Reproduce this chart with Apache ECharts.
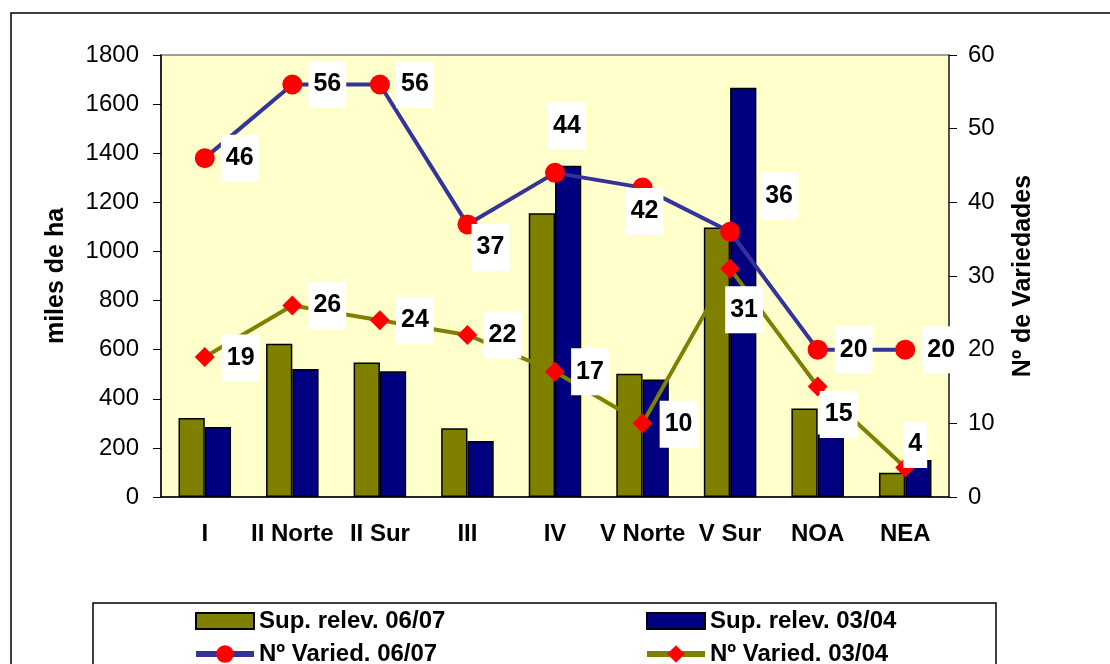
<!DOCTYPE html>
<html>
<head>
<meta charset="utf-8">
<script src="https://cdn.jsdelivr.net/npm/echarts@6/dist/echarts.min.js"></script>
<style>
  html, body { margin: 0; padding: 0; background: #fff; }
  #main { width: 1110px; height: 664px; }
</style>
</head>
<body>
<div id="main"></div>
<script>
// datos
var regiones = ["I", "II Norte", "II Sur", "III", "IV", "V Norte", "V Sur", "NOA", "NEA"];
var supRelev0607 = [322, 624, 548, 280, 1156, 502, 1098, 360, 99];
var supRelev0304 = [285, 521, 512, 228, 1349, 478, 1667, 255, 151];
var varied0607 = [46, 56, 56, 37, 44, 42, 36, 20, 20];
var varied0304 = [19, 26, 24, 22, 17, 10, 31, 15, 4];
var ticksIzq = [0, 200, 400, 600, 800, 1000, 1200, 1400, 1600, 1800];
var ticksDer = [0, 10, 20, 30, 40, 50, 60];

// desplazamiento de las etiquetas respecto al punto
var offs0607 = [[35, 0], [35, 0], [35, 0], [23, 23], [12, -47], [2, 24], [49, -36], [36, 0], [36, 0]];
var offs0304 = [[36, 1], [35, 0], [35, 0], [35, 0], [35, 0], [36, 1], [14, 41], [21, 28], [10, -23]];

var fuente = "Liberation Sans, Arial, sans-serif";

function conEtiquetas(vals, offs) {
  return vals.map(function (v, i) {
    return { value: v, label: { offset: offs[i] } };
  });
}

var etiqueta = {
  show: true,
  position: "inside",
  color: "#000",
  fontFamily: fuente,
  fontWeight: "bold",
  fontSize: 25,
  lineHeight: 25,
  backgroundColor: "#fff",
  padding: [11, 5, 11, 5]
};

// icono de barra 58x16 dentro de la caja de 58x22
var iconoBarra = "path://M0,0h58v16h-58z";

var leyenda = {
  orient: "horizontal",
  top: 609,
  width: 300,
  padding: 0,
  itemWidth: 58,
  itemHeight: 22,
  itemGap: 9,
  symbolKeepAspect: true,
  lineStyle: { width: 6 },
  textStyle: { fontFamily: fuente, fontWeight: "bold", fontSize: 24, color: "#000" }
};

var myChart = echarts.init(document.getElementById("main"));
var option = {
  animation: false,
  textStyle: { fontFamily: fuente },
  graphic: [
    { type: "rect", shape: { x: 11, y: 13, width: 1200, height: 700 },
      style: { fill: null, stroke: "#000", lineWidth: 1.5 }, z: -1 },
    { type: "rect", shape: { x: 93, y: 603, width: 903, height: 100 },
      style: { fill: null, stroke: "#000", lineWidth: 1.5 }, z: -1 }
  ],
  legend: [
    Object.assign({}, leyenda, {
      left: 193,
      data: [
        { name: "Sup. relev. 06/07", icon: iconoBarra },
        { name: "Nº Varied. 06/07" }
      ]
    }),
    Object.assign({}, leyenda, {
      left: 644,
      data: [
        { name: "Sup. relev. 03/04", icon: iconoBarra },
        { name: "Nº Varied. 03/04" }
      ]
    })
  ],
  grid: {
    left: 161,
    right: 161,
    top: 55,
    bottom: 167,
    show: true,
    backgroundColor: "#FFFFCC",
    borderColor: "#808080",
    borderWidth: 1.5
  },
  xAxis: {
    type: "category",
    data: regiones,
    axisLine: { lineStyle: { color: "#000", width: 1.5 } },
    axisTick: { length: 8, lineStyle: { color: "#000" } },
    axisLabel: { color: "#000", fontWeight: "bold", fontSize: 24, margin: 25, fontFamily: fuente, interval: 0, hideOverlap: false }
  },
  yAxis: [
    {
      type: "value",
      min: ticksIzq[0],
      max: ticksIzq[ticksIzq.length - 1],
      interval: ticksIzq[1] - ticksIzq[0],
      name: "miles de ha",
      nameLocation: "middle",
      nameGap: 92,
      nameTextStyle: { color: "#000", fontWeight: "bold", fontSize: 25, fontFamily: fuente },
      axisLine: { show: true, lineStyle: { color: "#000", width: 1.5 } },
      axisTick: { show: true, length: 8, lineStyle: { color: "#000" } },
      axisLabel: { color: "#000", fontSize: 24, margin: 22, fontFamily: fuente, formatter: function (v) { return String(v); } },
      splitLine: { show: false }
    },
    {
      type: "value",
      min: ticksDer[0],
      max: ticksDer[ticksDer.length - 1],
      interval: ticksDer[1] - ticksDer[0],
      name: "Nº de Variedades",
      nameLocation: "middle",
      nameGap: 62,
      nameTextStyle: { color: "#000", fontWeight: "bold", fontSize: 25, fontFamily: fuente },
      position: "right",
      axisLine: { show: true, lineStyle: { color: "#333", width: 1.5 } },
      axisTick: { show: true, length: 8, lineStyle: { color: "#000" } },
      axisLabel: { color: "#000", fontSize: 24, margin: 19, fontFamily: fuente },
      splitLine: { show: false }
    }
  ],
  series: [
    {
      name: "Sup. relev. 06/07",
      type: "bar",
      data: supRelev0607,
      barGap: "0%",
      barCategoryGap: "40%",
      itemStyle: { color: "#808000", borderColor: "#000", borderWidth: 1.5 }
    },
    {
      name: "Sup. relev. 03/04",
      type: "bar",
      data: supRelev0304,
      barGap: "0%",
      barCategoryGap: "40%",
      itemStyle: { color: "#000080", borderColor: "#000", borderWidth: 1.5 }
    },
    {
      name: "Nº Varied. 03/04",
      type: "line",
      yAxisIndex: 1,
      data: conEtiquetas(varied0304, offs0304),
      symbol: "diamond",
      symbolSize: 20,
      lineStyle: { color: "#808000", width: 4 },
      itemStyle: { color: "#FF0000" },
      label: etiqueta,
      z: 3
    },
    {
      name: "Nº Varied. 06/07",
      type: "line",
      yAxisIndex: 1,
      data: conEtiquetas(varied0607, offs0607),
      symbol: "circle",
      symbolSize: 20,
      lineStyle: { color: "#333399", width: 4 },
      itemStyle: { color: "#FF0000" },
      label: etiqueta,
      z: 4
    }
  ]
};
myChart.setOption(option);
</script>
</body>
</html>
